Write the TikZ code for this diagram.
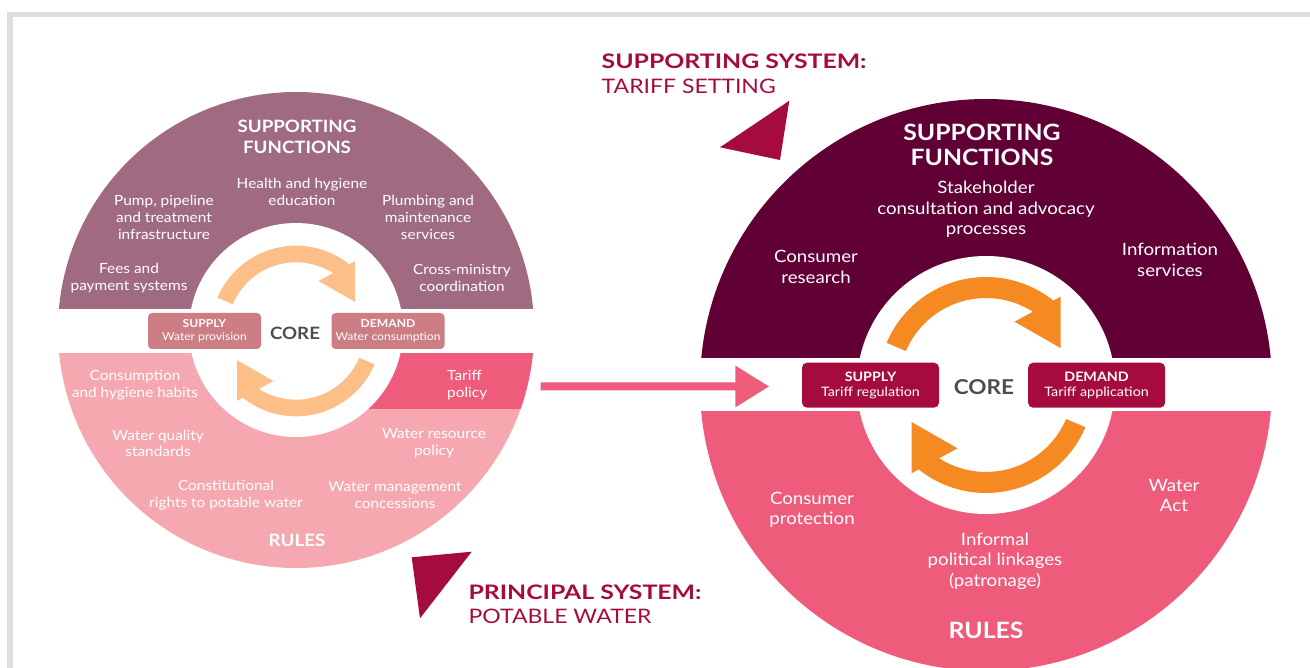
\documentclass[tikz,border=0pt]{standalone}
\usepackage{fontspec}
\setmainfont{Lato}[FakeStretch=1.1]
\newfontfamily\ttlbold{Lato Bold}[FakeStretch=1.24]
\newfontfamily\ttlreg{Lato}[FakeStretch=1.15]
\usetikzlibrary{arrows.meta}
\definecolor{mauve}{HTML}{A06B80}
\definecolor{lpink}{HTML}{F5A8B0}
\definecolor{tpink}{HTML}{EF5B7B}
\definecolor{maroon}{HTML}{600035}
\definecolor{crimson}{HTML}{A60B40}
\definecolor{boxrose}{HTML}{CD7E84}
\definecolor{lorange}{HTML}{FCBF87}
\definecolor{dorange}{HTML}{F58A22}
\definecolor{coregray}{HTML}{4D4D4F}
\definecolor{framegray}{HTML}{DEDEDE}
\newcommand\myfs[2]{\fontsize{#1}{#2}\selectfont}
\tikzset{
  cycarrow/.pic={\path[pic actions] (157:108) arc[start angle=157,end angle=51.4,radius=108]
     -- (74.5,88.3) -- (74.5,37) -- (28.5,63.3) -- (57.4:87)
     arc[start angle=57.4,end angle=157,radius=87] -- cycle;},
  lbody/.style={text=white, align=center, inner sep=0pt, font=\myfs{14}{17}},
  rbody/.style={text=white, align=center, inner sep=0pt, font=\myfs{17}{20.5}},
  lhead/.style={text=white, align=center, inner sep=0pt, font=\bfseries\myfs{17}{20.5}},
  rhead/.style={text=white, align=center, inner sep=0pt, font=\bfseries\myfs{22.5}{24.6}},
  lbox/.style={fill=boxrose, rounded corners=4pt, minimum width=113pt, minimum height=36pt,
     text=white, align=center, inner sep=0pt, font=\myfs{11}{13}},
  rbox/.style={fill=crimson, rounded corners=5pt, minimum width=137pt, minimum height=45pt,
     text=white, align=center, inner sep=0pt, font=\myfs{13}{15.5}},
  ttl/.style={text=crimson, inner sep=0pt, anchor=base west, font=\ttlreg\myfs{20}{24}},
  ttlb/.style={ttl, font=\ttlbold\myfs{20}{24}},
  tri/.style={fill=crimson},
}
\begin{document}
\begin{tikzpicture}[x=1pt,y=1pt]
\useasboundingbox (0,0) rectangle (1310,-668);
\clip (0,0) rectangle (1310,-668);
% frame
\draw[framegray, line width=5.3pt] (1330,-14.6) -- (10,-14.6) -- (10,-700);

% ---------- left circle ----------
\coordinate (lc) at (296,-330);
\begin{scope}\clip (46,-309) rectangle (546,-80); \fill[mauve] (lc) circle[radius=238]; \end{scope}
\begin{scope}\clip (46,-354) rectangle (546,-580); \fill[lpink] (lc) circle[radius=238]; \end{scope}
\begin{scope}\clip (296,-354) rectangle (546,-409); \fill[tpink] (lc) circle[radius=238]; \end{scope}
\fill[white] (lc) circle[radius=107];
\pic[fill=lorange, scale=0.79] at (296,-331) {cycarrow};
\pic[fill=lorange, scale=0.79, rotate=180] at (296,-331) {cycarrow};

\node[lhead] (lsf) at (297,-137) {SUPPORTING\\FUNCTIONS};
\node[lbody] (lhealth) at (302,-191.5) {Health and hygiene\\education};
\node[lbody] (lpump) at (164,-217.7) {Pump, pipeline\\and treatment\\infrastructure};
\node[lbody] (lplumb) at (428,-217.7) {Plumbing and\\maintenance\\services};
\node[lbody] (lfees) at (129,-277.7) {Fees and\\payment systems};
\node[lbody] (lcross) at (462,-277.7) {Cross-ministry\\coordination};

\node[lbox] (lsupply) at (204.5,-331) {{\bfseries SUPPLY}\\Water provision};
\node[lbox] (ldemand) at (388,-331) {{\bfseries DEMAND}\\Water consumption};
\node[text=coregray, inner sep=0pt, font=\bfseries\myfs{17}{20}] (lcore) at (295,-333) {CORE};

\node[lbody] (lcons) at (135,-384.7) {Consumption\\and hygiene habits};
\node[lbody, align=left, anchor=west] (ltariff) at (447,-384.7) {Tariff\\policy};
\node[lbody] (lwq) at (158,-443.4) {Water quality\\standards};
\node[lbody] (lwr) at (434,-443.5) {Water resource\\policy};
\node[lbody] (lconst) at (226,-495.3) {Constitutional\\rights to potable water};
\node[lbody] (lwm) at (395,-495.3) {Water management\\concessions};
\node[lhead] (lrules) at (297,-540) {RULES};

% ---------- right circle ----------
\coordinate (rc) at (986,-385);
\begin{scope}\clip (690,-358) rectangle (1290,-90); \fill[maroon] (rc) circle[radius=286]; \end{scope}
\begin{scope}\clip (690,-412) rectangle (1290,-690); \fill[tpink] (rc) circle[radius=286]; \end{scope}
\fill[white] (rc) circle[radius=129];
\pic[fill=dorange] at (rc) {cycarrow};
\pic[fill=dorange, rotate=180] at (rc) {cycarrow};

\node[rhead] (rsf) at (982,-145) {SUPPORTING\\FUNCTIONS};
\node[rbody] (rstake) at (986,-209.3) {Stakeholder\\consultation and advocacy\\processes};
\node[rbody] (rcres) at (816,-266.7) {Consumer\\research};
\node[rbody] (rinfo) at (1170,-260) {Information\\services};

\node[rbox] (rsupply) at (870.5,-385.2) {{\bfseries SUPPLY}\\Tariff regulation};
\node[rbox] (rdemand) at (1096.6,-385.2) {{\bfseries DEMAND}\\Tariff application};
\node[text=coregray, inner sep=0pt, font=\bfseries\myfs{20.5}{24}] (rcore) at (984,-386.7) {CORE};

\node[rbody] (rcprot) at (812,-510) {Consumer\\protection};
\node[rbody] (rwact) at (1174,-495.7) {Water\\Act};
\node[rbody] (rinf) at (995,-561) {Informal\\political linkages\\(patronage)};
\node[rhead] (rrules) at (986,-630) {RULES};

% ---------- connector ----------
\coordinate (arrS) at (540.7,-386.3);
\coordinate (arrE) at (769.3,-386.5);
\draw[tpink, line width=8pt, -{Triangle[length=34pt,width=39.5pt]}] (arrS) -- (arrE);

% ---------- titles & triangles ----------
\fill[tri] (789.3,-100.7) -- (720,-147.3) -- (780,-160) -- cycle;
\fill[tri] (411.7,-557.3) -- (471.7,-551.7) -- (420,-618.3) -- cycle;
\node[ttlb] (t1) at (601.5,-68.5) {SUPPORTING SYSTEM:};
\node[ttl] (t2) at (601.5,-93.3) {TARIFF SETTING};
\node[ttlb] (t3) at (468.3,-599.3) {PRINCIPAL SYSTEM:};
\node[ttl] (t4) at (468.3,-623.3) {POTABLE WATER};
\end{tikzpicture}
\end{document}
